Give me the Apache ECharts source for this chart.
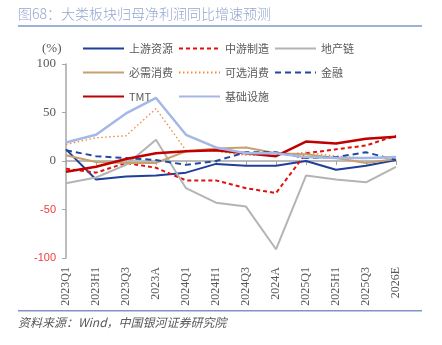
<!DOCTYPE html>
<html><head><meta charset="utf-8">
<script src="https://cdn.jsdelivr.net/npm/echarts@6/dist/echarts.min.js"></script>
<style>html,body{margin:0;padding:0;background:#fff}#c{width:442px;height:345px}</style>
</head><body><div id="c"></div>
<script>
var categories = ['2023Q1','2023H1','2023Q3','2023A','2024Q1','2024H1','2024Q3','2024A','2025Q1','2025H1','2025Q3','2026E'];
var upstream = [12, -19, -16, -15, -12, -3, -5, -5, 0, -9, -5, 1];
var midstream = [-8, -12, -2, -7, -20, -20, -28, -33, 8, 12, 16, 26];
var realEstate = [-23, -17, -4, 22, -28, -43, -47, -91, -15, -19, -22, -6];
var staples = [6, -1, -2, -2, 10, 13, 14, 8, 7, 3, -2, 2];
var discretionary = [17, 24, 26, 54, 11, 10, 6, 6, 9, 5, 3, 3];
var finance = [11, 5, 3, 1, -4, 0, 9, 9, 3, 4, 9, 1];
var tmt = [-11, -6, 2, 8, 10, 11, 8, 5, 20, 18, 23, 25];
var infra = [19, 27, 49, 65, 27, 14, 8, 8, 4, 3, 3, 4];
var yTicks = {min: -100, max: 100, interval: 50};

var chart = echarts.init(document.getElementById('c'));
function s(name, data, color, width, type) {
  return {name: name, type: 'line', data: data, symbol: 'none', xAxisIndex: 0, yAxisIndex: 0,
    lineStyle: {color: color, width: width, type: type || 'solid'}, itemStyle: {color: color}, z: 3};
}
var legendText = {fontFamily: 'Noto Sans CJK SC', fontSize: 11, color: '#595959'};
var legendCommon = {orient: 'vertical', itemWidth: 41, itemHeight: 12, itemGap: 13, top: 43,
  textStyle: legendText, padding: 0, itemStyle: {opacity: 0, borderWidth: 0}};
chart.setOption({
  animation: false,
  grid: {left: 66, right: 46, top: 64, bottom: 87, containLabel: false},
  legend: [
    Object.assign({left: 82, data: ['上游资源', '必需消费', 'TMT']}, legendCommon),
    Object.assign({left: 178, data: ['中游制造', '可选消费', '基础设施']}, legendCommon),
    Object.assign({left: 274, data: ['地产链', '金融']}, legendCommon)
  ],
  xAxis: [
    {type: 'category', data: categories, boundaryGap: false, position: 'bottom',
      axisLine: {show: false, onZero: false}, axisTick: {show: false},
      axisLabel: {rotate: 90, margin: 9, fontFamily: 'Liberation Serif', fontSize: 12, color: '#595959', interval: 0}},
    {type: 'category', data: categories, boundaryGap: false, position: 'bottom',
      axisLine: {show: true, onZero: true, lineStyle: {color: '#A6A6A6', width: 1.5}},
      axisTick: {show: true, length: 4, lineStyle: {color: '#A6A6A6'}, interval: 0},
      axisLabel: {show: false}}
  ],
  yAxis: {type: 'value', min: yTicks.min, max: yTicks.max, interval: yTicks.interval,
    splitLine: {show: false},
    axisLine: {show: true, lineStyle: {color: '#A6A6A6', width: 1.5}},
    axisTick: {show: true, length: 4, lineStyle: {color: '#A6A6A6'}},
    axisLabel: {margin: 10, formatter: function (v) { return v < 0 ? '{n|' + v + '}' : '{p|' + v + '}'; },
      rich: {p: {fontFamily: 'Liberation Serif', fontSize: 13, color: '#595959'},
             n: {fontFamily: 'Liberation Sans', fontSize: 11, color: '#F03C3C'}}}},
  series: [
    s('上游资源', upstream, '#1F3F99', 2),
    s('中游制造', midstream, '#E01010', 2, [4, 3]),
    s('地产链', realEstate, '#B4B4B4', 2),
    s('必需消费', staples, '#C8A06E', 2),
    s('可选消费', discretionary, '#F4873C', 1.3, [1.5, 2.5]),
    s('金融', finance, '#2248A0', 2, [6, 4]),
    s('TMT', tmt, '#C00000', 2.5),
    s('基础设施', infra, '#A3B8E6', 2.5)
  ],
  graphic: [
    {type: 'text', left: 18, top: 7, style: {text: '图68：大类板块归母净利润同比增速预测', font: '300 14px "Noto Sans CJK SC"', fill: '#94A6D0'}},
    {type: 'rect', shape: {x: 18, y: 25, width: 404, height: 2}, style: {fill: '#A0B2DA'}},
    {type: 'text', left: 42, top: 42, style: {text: '(%)', font: '13px "Liberation Serif"', fill: '#595959'}},
    {type: 'rect', shape: {x: 18, y: 310, width: 404, height: 1.5}, style: {fill: '#7F93C5'}},
    {type: 'text', left: 18, top: 316, style: {text: '资料来源：Wind，中国银河证券研究院', font: 'italic 12px "Noto Sans CJK SC"', fill: '#595959'}}
  ]
});
</script></body></html>
